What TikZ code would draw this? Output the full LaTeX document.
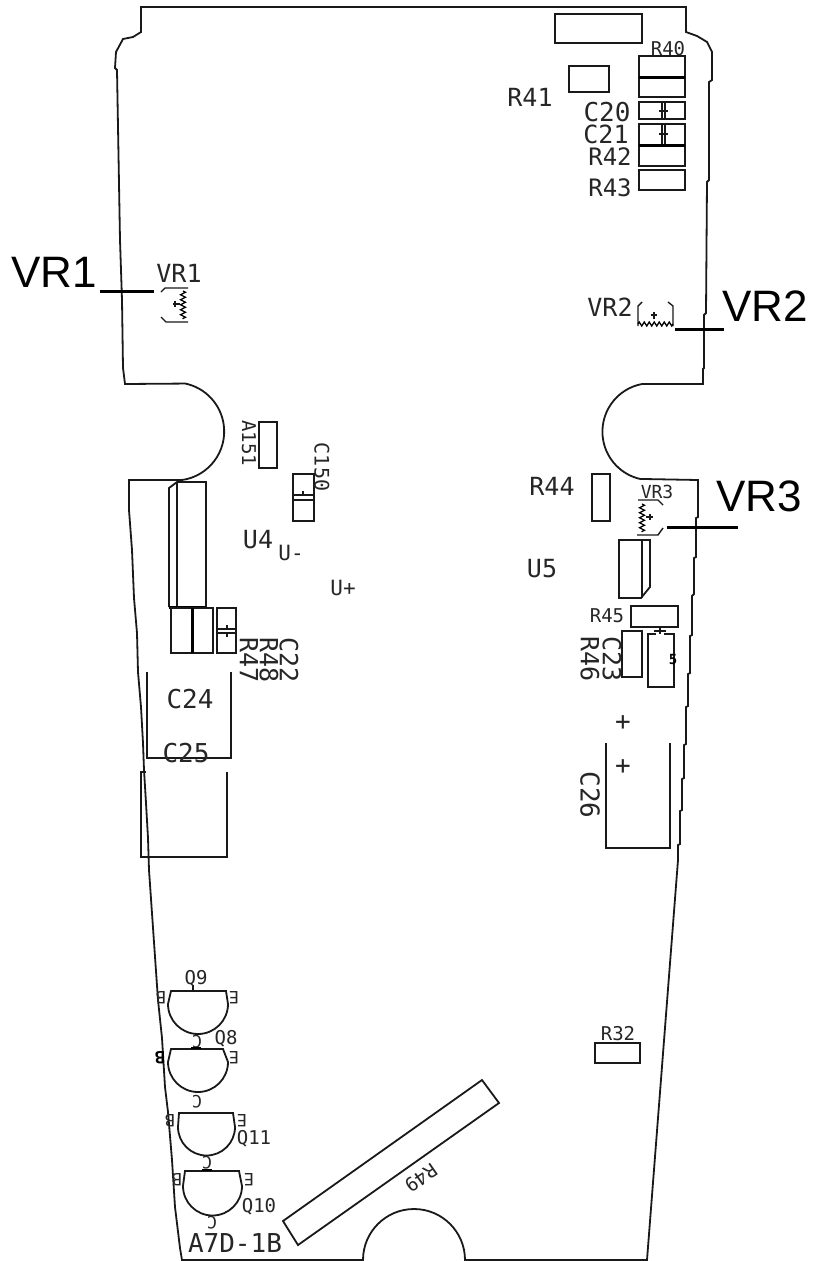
\documentclass[tikz,border=0pt]{standalone}
\usepackage{fontspec}
\setmainfont{Liberation Sans}
\newfontfamily\cadfont{DejaVu Sans Mono}
\usetikzlibrary{decorations.pathmorphing}
\tikzset{
  ln/.style={line width=1.8pt,color=black!90,line join=miter},
  thick bar/.style={line width=3pt,color=black},
  thin part/.style={line width=1.4pt,color=black!90},
  zz/.style={line width=1.3pt,decorate,decoration={zigzag,amplitude=2.5pt,segment length=5pt}},
  lead/.style={line width=3pt,color=black},
  cad/.style={font=\cadfont\fontsize{#1}{#1}\selectfont,inner sep=0pt,color=black!85},
  big/.style={font=\fontsize{44}{44}\selectfont,inner sep=0pt,color=black},
  down/.style={rotate=-90},
  flip/.style={rotate=180}
}
\begin{document}
\begin{tikzpicture}[x=1pt,y=-1pt]
\useasboundingbox[fill=white] (0,0) rectangle (812,1261);
% board outline
\draw[ln] (141,7) -- (686,7) -- (686,32) -- (697,36) -- (707,42) -- (712,52) -- (712,80) -- (709,82) -- (709,180) -- (707,182) -- (706,313) -- (704,315) -- (704,368) -- (703,369) -- (703,384) -- (642,384)
  arc[start angle=100.6,end angle=257,radius=48.5pt] -- (698,480) -- (698,517) -- (696,518) -- (696,557) -- (694,558) -- (694,594) -- (692,596) -- (692,635) -- (690,636) -- (690,673) -- (688,674) -- (688,706) -- (686,707) -- (686,744) -- (684,745) -- (684,778) -- (682,779) -- (682,810) -- (680,811) -- (680,844) -- (678,845) -- (678,860) -- (647,1260) -- (465,1260)
  arc[start angle=0,end angle=180,radius=51pt] -- (182,1260) -- (180,1248) -- (175,1207) -- (172,1160) -- (168,1112) -- (165,1087) -- (162,1038) -- (158,1000) -- (149,870) -- (148,838) -- (146,803) -- (144,770) -- (143,743) -- (141,707) -- (138,672) -- (137,633) -- (134,598) -- (132,550) -- (129,510) -- (129,480) -- (182,480)
  arc[start angle=-82,end angle=78,radius=49pt] -- (125,384) -- (123,368) -- (122,300) -- (120,240) -- (117,70) -- (115,68) -- (116,52) -- (123,39) -- (133,37) -- (141,32) -- cycle;

% top right parts
\draw[ln] (555,14) rectangle (642,43);
\draw[ln] (569,66) rectangle (609,92);
\draw[ln] (639,56) rectangle (685,97);
\draw[thick bar] (639,77) -- (685,77);
\draw[ln] (639,102) rectangle (685,119);
\draw[thin part] (662,102) -- (662,119) (665,102) -- (665,119) (659,111) -- (668,111);
\draw[ln] (639,124) rectangle (685,145);
\draw[thin part] (662,124) -- (662,145) (665,124) -- (665,145) (659,134) -- (668,134);
\draw[ln] (639,145) rectangle (685,166);
\draw[thick bar] (639,145) -- (685,145);
\draw[ln] (639,170) rectangle (685,190);
\node[cad=19] (r40) at (668,49) {R40};
\node[cad=25] (r41) at (530,97) {R41};
\node[cad=26] (c20) at (607,112) {C20};
\node[cad=25] (c21) at (606,134) {C21};
\node[cad=24] (r42) at (610,157) {R42};
\node[cad=24] (r43) at (610,188) {R43};

% VR1
\node[big] (vr1big) at (54,272) {VR1};
\node[cad=25] (vr1) at (179,273) {VR1};
\coordinate (vr1a) at (100,291);
\coordinate (vr1b) at (154,291);
\draw[lead] (vr1a) -- (vr1b);
\draw[thin part] (161,292) -- (165,288) -- (188,288) (161,317) -- (166,322) -- (188,322);
\draw[zz] (183,291) -- (183,319);
\draw[thin part] (173,304) -- (180,304) (175,301) -- (175,307);

% VR2
\node[big] (vr2big) at (765,306) {VR2};
\node[cad=25] (vr2) at (610,307) {VR2};
\coordinate (vr2a) at (675,329);
\coordinate (vr2b) at (724,329);
\draw[lead] (vr2a) -- (vr2b);
\draw[thin part] (642,302) -- (638,306) -- (638,326) (668,302) -- (673,306) -- (673,326);
\draw[line width=1.3pt,decorate,decoration={zigzag,amplitude=2pt,segment length=5pt}] (638,324) -- (673,324);
\draw[thin part] (654,312) -- (654,319) (651,315) -- (657,315);

% VR3
\node[big] (vr3big) at (759,496) {VR3};
\node[cad=18] (vr3) at (657,492) {VR3};
\coordinate (vr3a) at (667,527);
\coordinate (vr3b) at (738,527);
\draw[lead] (vr3a) -- (vr3b);
\draw[thin part] (638,500) -- (658,500) -- (663,505) (637,535) -- (658,535) -- (663,528);
\draw[zz] (642,504) -- (642,532);
\draw[thin part] (646,517) -- (653,517) (650,514) -- (650,520);

% R151, C150
\draw[ln] (259,422) rectangle (277,468);
\node[cad=19,down] (r151) at (249,443) {A151};
\draw[ln] (293,474) rectangle (314,521);
\draw[thin part] (293,495) -- (314,495) (293,500) -- (314,500) (303,491) -- (303,494);
\node[cad=20,down] (c150) at (322,467) {C150};

% U4
\draw[ln] (169,607) -- (169,488) -- (177,482) -- (206,482) -- (206,607);
\draw[ln] (177,482) -- (177,607);
\draw[thick bar] (169,607) -- (206,607);
\draw[ln] (171,608) rectangle (213,653);
\draw[thick bar] (192,608) -- (192,653);
\draw[ln] (217,608) rectangle (236,653);
\draw[thin part] (217,629) -- (236,629) (217,633) -- (236,633) (227,625) -- (227,628) (227,634) -- (227,637);
\node[cad=25] (u4) at (258,540) {U4};
\node[cad=21] (vminus) at (291,553) {U-};
\node[cad=21] (vplus) at (343,588) {U+};
\node[cad=25,down] (r47) at (249,660) {R47};
\node[cad=25,down] (r48) at (269,660) {R48};
\node[cad=25,down] (c22) at (289,660) {C22};

% C24, C25
\draw[ln] (147,672) -- (147,758) -- (231,758) -- (231,672);
\node[cad=26] (c24) at (190,699) {C24};
\node[cad=26] (c25) at (186,753) {C25};
\draw[ln] (146,772) -- (141,772) -- (141,857) -- (227,857) -- (227,772);

% right column
\draw[ln] (592,474) rectangle (610,521);
\node[cad=25] (r44) at (552,486) {R44};
\node[cad=25] (u5) at (542,569) {U5};
\draw[ln] (619,540) -- (650,540) -- (650,587) -- (641,598) -- (619,598) -- cycle;
\draw[ln] (642,540) -- (642,598);
\draw[ln] (631,606) rectangle (678,627);
\node[cad=19] (r45) at (607,616) {R45};
\draw[ln] (622,631) rectangle (642,677);
\node[cad=25,down] (r46) at (590,659) {R46};
\node[cad=25,down] (c23) at (612,659) {C23};
\draw[ln] (656,634) -- (648,634) -- (648,687) -- (674,687) -- (674,634) -- (664,634);
\draw[thin part] (654,631) -- (666,631) (660,628) -- (660,634);
\node[font=\cadfont\bfseries\fontsize{14}{14}\selectfont,inner sep=0pt] (mark5) at (673,659) {5};
\node[cad=26] (plus1) at (623,723) {+};
\node[cad=26] (plus2) at (623,767) {+};
\draw[ln] (606,743) -- (606,848) -- (670,848) -- (670,743);
\node[cad=26,down] (c26) at (590,795) {C26};

% R32, R49
\draw[ln] (595,1043) rectangle (640,1063);
\node[cad=19] (r32) at (618,1034) {R32};
\draw[ln] (482,1080) -- (499,1103) -- (298,1245) -- (283,1221) -- cycle;
\node[cad=19,rotate=215] (r49) at (421,1178) {R49};

% transistors
% Q9
\draw[ln] (171,991) -- (226,991) -- (228,1004) arc[start angle=0,end angle=-180,radius=30pt] -- cycle;
\draw[ln] (193,985) -- (193,991);
\node[cad=19] (q9) at (196,979) {Q9};
\node[cad=17,flip] (q9b) at (161,998) {B};
\node[cad=17,flip] (q9e) at (234,998) {E};
\node[cad=17,flip] (q9c) at (197,1042) {C};
% Q8
\draw[ln] (171,1049) -- (223,1049) -- (228,1062) arc[start angle=0,end angle=-180,radius=30pt] -- cycle;
\draw[line width=2.6pt] (191,1048) -- (201,1048);
\node[cad=19] (q8) at (226,1039) {Q8};
\node[font=\cadfont\bfseries\fontsize{17}{17}\selectfont,inner sep=0pt,flip] (q8b) at (160,1058) {B};
\node[cad=17,flip] (q8e) at (234,1058) {E};
\node[cad=17,flip] (q8c) at (197,1102) {C};
% Q11
\draw[ln] (179,1113) -- (233,1113) -- (235,1127) arc[start angle=0,end angle=-180,radius=28.5pt] -- cycle;
\node[cad=19] (q11) at (254,1139) {Q11};
\node[cad=17,flip] (q11b) at (170,1121) {B};
\node[cad=17,flip] (q11e) at (242,1121) {E};
\node[cad=17,flip] (q11c) at (207,1163) {C};
% Q10
\draw[ln] (185,1171) -- (239,1171) -- (242,1186) arc[start angle=0,end angle=-180,radius=29.5pt] -- cycle;
\draw[line width=2.6pt] (202,1170) -- (212,1170);
\node[cad=19] (q10) at (259,1207) {Q10};
\node[cad=17,flip] (q10b) at (177,1180) {B};
\node[cad=17,flip] (q10e) at (249,1180) {E};
\node[cad=17,flip] (q10c) at (212,1223) {C};
\node[cad=26] (r7d) at (235,1243) {A7D-1B};
\end{tikzpicture}
\end{document}
